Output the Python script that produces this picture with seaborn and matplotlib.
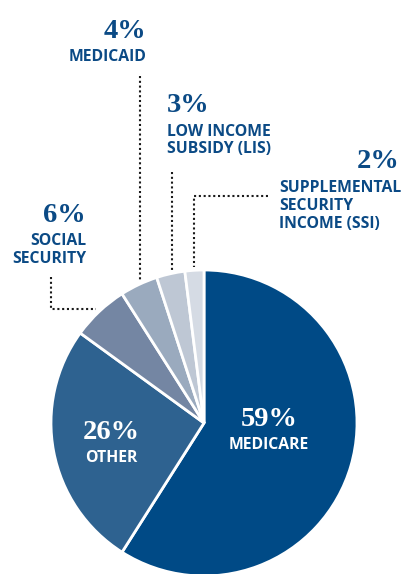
import matplotlib
matplotlib.use("Agg")
import matplotlib.pyplot as plt
import seaborn as sns

# ---- data ----
categories = ["MEDICARE", "OTHER", "SOCIAL\nSECURITY", "MEDICAID",
              "LOW INCOME\nSUBSIDY (LIS)", "SUPPLEMENTAL\nSECURITY\nINCOME (SSI)"]
shares = [59, 26, 6, 4, 3, 2]
pct_labels = ["59%", "26%", "6%", "4%", "3%", "2%"]
slice_colors = ["#004A86", "#2E6290", "#7486A3", "#9AAABE", "#BEC7D4", "#D5DBE4"]

sns.set_theme(style="white")
palette = sns.color_palette(slice_colors)

W, H = 403, 574
fig = plt.figure(figsize=(W / 100, H / 100), dpi=100)
ax = fig.add_axes([0, 0, 1, 1])

def Y(py):
    return H - py

CX, CY, R = 204, 423, 153
ax.pie(shares, colors=palette, startangle=90, counterclock=False,
       center=(CX, Y(CY)), radius=R, frame=True,
       wedgeprops=dict(edgecolor="white", linewidth=2.0))
ax.set_xlim(0, W)
ax.set_ylim(0, H)
ax.set_aspect("equal")
ax.axis("off")

navy = "#0B4A85"
serif = ["Liberation Serif", "DejaVu Serif"]
sans = ["Open Sans", "DejaVu Sans"]
PCT_SIZE = 20.5
LAB_SIZE = 11.3

def pct(x, base, s, ha, color=navy):
    ax.text(x, Y(base), s, ha=ha, va="baseline", fontsize=PCT_SIZE,
            family=serif, weight="bold", color=color)

def lab(x, base, s, ha, color=navy):
    ax.text(x, Y(base), s, ha=ha, va="baseline", fontsize=LAB_SIZE,
            family=sans, weight="bold", color=color)

# inside labels
pct(269, 426, pct_labels[0], "center", "white")
lab(269, 449, categories[0], "center", "white")
pct(111, 439, pct_labels[1], "center", "white")
lab(111, 462, categories[1], "center", "white")

# social security
pct(86, 222, pct_labels[2], "right")
ss = categories[2].split("\n")
lab(86, 245, ss[0], "right")
lab(86, 263, ss[1], "right")

# medicaid
pct(146, 38, pct_labels[3], "right")
lab(146, 61, categories[3], "right")

# LIS
pct(167, 112, pct_labels[4], "left")
lis = categories[4].split("\n")
lab(167, 136, lis[0], "left")
lab(167, 153, lis[1], "left")

# SSI
pct(399, 168, pct_labels[5], "right")
ssi = categories[5].split("\n")
lab(279, 192, ssi[0], "left")
lab(279, 210, ssi[1], "left")
lab(279, 228, ssi[2], "left")

# dotted leader lines
dot = dict(color="#1a1a1a", linewidth=1.5, linestyle=(0, (1, 1.3)),
           solid_capstyle="butt", dash_capstyle="butt")
ax.plot([51, 51, 96], [Y(277), Y(309), Y(309)], **dot)
ax.plot([140, 140], [Y(76), Y(282)], **dot)
ax.plot([172, 172], [Y(172), Y(270)], **dot)
ax.plot([268, 194, 194], [Y(196), Y(196), Y(267)], **dot)

fig.savefig("out.png", dpi=100, facecolor="white")
